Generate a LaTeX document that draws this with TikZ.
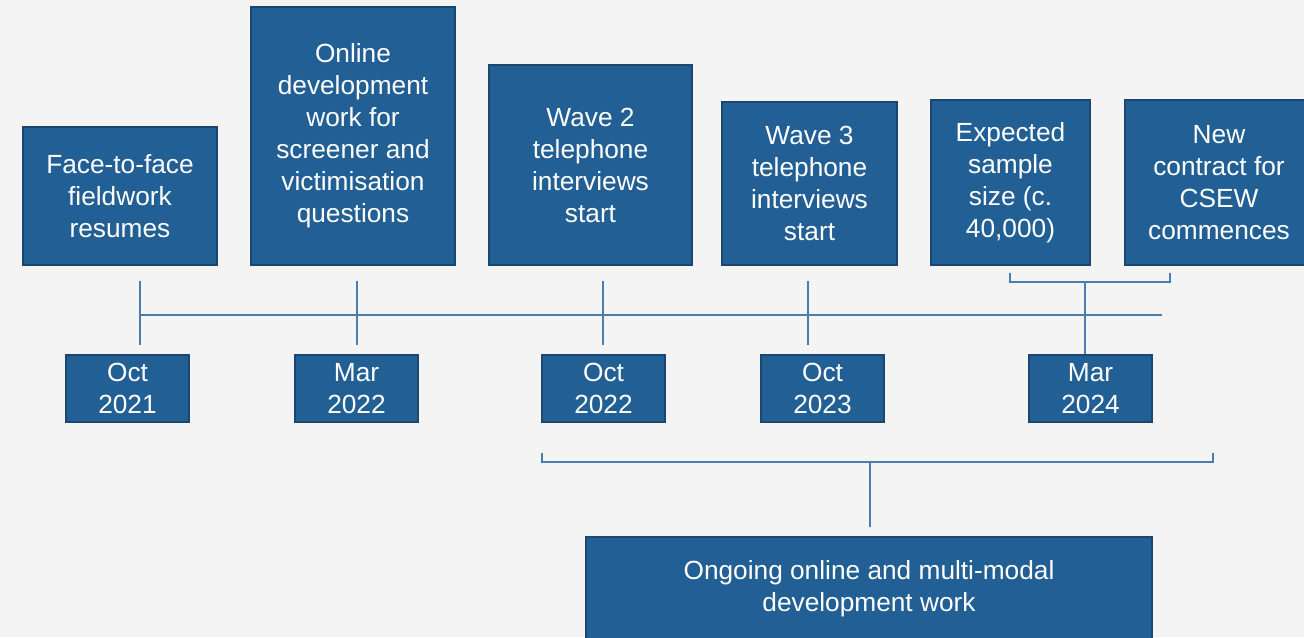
\documentclass[tikz,border=0pt]{standalone}
\usepackage{fontspec}
\setmainfont{Liberation Sans}
\definecolor{bg}{HTML}{F4F4F4}
\definecolor{boxfill}{HTML}{215F94}
\definecolor{boxedge}{HTML}{1A4670}
\definecolor{linec}{HTML}{4A7CAE}
\tikzset{
  box/.style={draw=boxedge, line width=1.5pt, fill=boxfill, text=white, align=center,
    font=\fontsize{19.7pt}{24pt}\selectfont, inner sep=0pt},
  datebox/.style={box, minimum width=92.25pt, minimum height=50.25pt},
  conn/.style={draw=linec, line width=1.1pt}
}
\begin{document}
\begin{tikzpicture}[x=0.75pt, y=-0.75pt]
\fill[bg] (0,0) rectangle (1304,637);
\useasboundingbox (0,0) rectangle (1304,637);
% event boxes
\node[box, minimum width=145.5pt, minimum height=103.5pt] (b1) at (120,196) {Face-to-face\\fieldwork\\resumes};
\node[box, minimum width=153pt, minimum height=193.5pt] (b2) at (353,136) {Online\\development\\work for\\screener and\\victimisation\\questions};
\node[box, minimum width=152.25pt, minimum height=150pt] (b3) at (590.5,165) {Wave 2\\telephone\\interviews\\start};
\node[box, minimum width=131.25pt, minimum height=122.25pt] (b4) at (809.5,183.5) {Wave 3\\telephone\\interviews\\start};
\node[box, minimum width=119.25pt, minimum height=123.75pt] (b5) at (1010.5,182.5) {Expected\\sample\\size (c.\\40,000)};
\node[box, minimum width=141pt, minimum height=123.75pt] (b6) at (1219,182.5) {New\\contract for\\CSEW\\commences};
% date boxes
\node[datebox] (d1) at (127.5,388.5) {Oct\\2021};
\node[datebox] (d2) at (356.5,388.5) {Mar\\2022};
\node[datebox] (d3) at (603.5,388.5) {Oct\\2022};
\node[datebox] (d4) at (822.5,388.5) {Oct\\2023};
\node[datebox] (d5) at (1090.5,388.5) {Mar\\2024};
\node[box, minimum width=424.5pt, minimum height=77.25pt] (ong) at (869,588.5) {Ongoing online and multi-modal\\development work};
% timeline
\coordinate (tl0) at (140,315);
\coordinate (tl1) at (1162,315);
\draw[conn] (tl0) -- (tl1);
\foreach \x/\n in {140/a,357/b,603/c,808/d}{
  \coordinate (t\n1) at (\x,281);
  \coordinate (t\n2) at (\x,345);
  \draw[conn] (t\n1) -- (t\n2);
}
% upper bracket for Mar 2024
\coordinate (ba) at (1010,273);
\coordinate (bb) at (1170,273);
\coordinate (bm) at (1085,282);
\draw[conn] (ba) -- (1010,282) -- (1170,282) -- (bb);
\draw[conn] (bm) -- (bm |- d5.north);
% lower bracket
\coordinate (la) at (542,453);
\coordinate (lb) at (1213,453);
\coordinate (lm) at (870,462);
\coordinate (le) at (870,527);
\draw[conn] (la) -- (542,462) -- (1213,462) -- (lb);
\draw[conn] (lm) -- (le);
\end{tikzpicture}
\end{document}
